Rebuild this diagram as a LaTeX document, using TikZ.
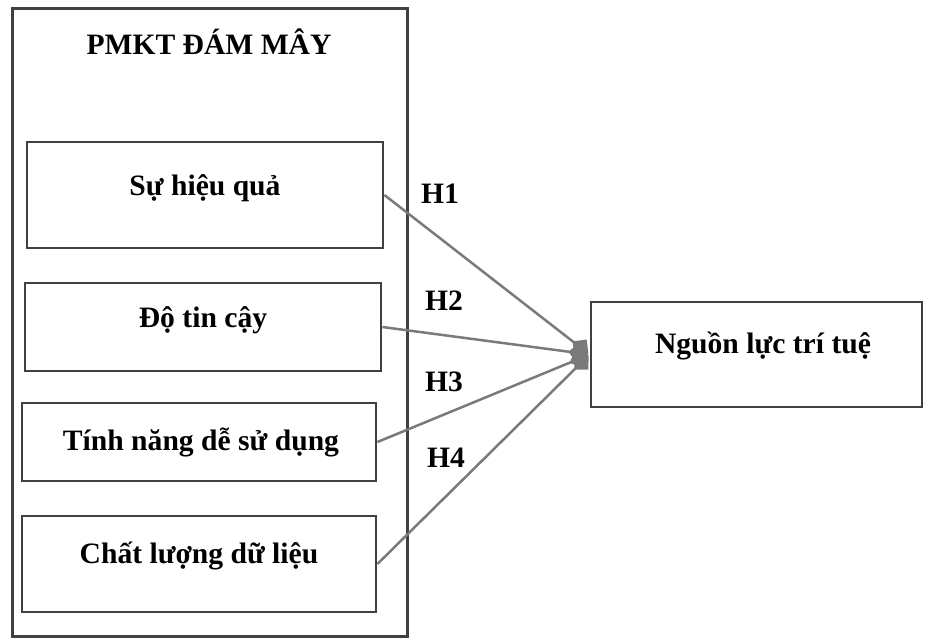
\documentclass[tikz,border=0pt]{standalone}
\usepackage{fontspec}
\setmainfont{Liberation Serif}
\usetikzlibrary{arrows.meta}
\definecolor{boxc}{HTML}{404040}
\definecolor{linec}{HTML}{7a7a7a}
\begin{document}
\begin{tikzpicture}[x=1pt,y=-1pt,
  box/.style={draw=boxc,line width=2.8pt,minimum width=#1,inner sep=0pt},
  txt/.style={font=\fontsize{29.6}{34}\selectfont\bfseries,anchor=base,inner sep=0pt},
  hyp/.style={font=\fontsize{29.6}{34}\selectfont\bfseries,anchor=base,inner sep=0pt},
  conn/.style={draw=linec,line width=2.5pt,shorten >=1.5pt,-{Kite[length=20pt,width=20pt,inset=10pt,line width=0pt]}}]
\useasboundingbox (0,0) rectangle (925,638);
% outer group box
\node[draw=boxc,line width=3pt,minimum width=395pt,minimum height=628pt,inner sep=0pt] (outer) at (209.5,322) {};
\node[txt] (title) at (209,54) {PMKT ĐÁM MÂY};
% inner boxes
\node[box=356pt,minimum height=106pt] (b1) at (205,195) {};
\node[txt] (t1) at (205,195.5) {Sự hiệu quả};
\node[box=356pt,minimum height=88pt] (b2) at (203,327) {};
\node[txt] (t2) at (203,327) {Độ tin cậy};
\node[box=354pt,minimum height=78pt] (b3) at (199,442) {};
\node[txt] (t3) at (201,450) {Tính năng dễ sử dụng};
\node[box=354pt,minimum height=96pt] (b4) at (199,564) {};
\node[txt] (t4) at (199,563) {Chất lượng dữ liệu};
% target
\node[box=331pt,minimum height=105pt] (r) at (756.5,354.5) {};
\node[txt] (tr) at (763,353) {Nguồn lực trí tuệ};
% connectors
\draw[conn] (b1.east) -- (r.west);
\draw[conn] (b2.east) -- (r.west);
\draw[conn] (b3.east) -- (r.west);
\draw[conn] (b4.east) -- (r.west);
% hypothesis labels
\node[hyp] (h1) at (440,203) {H1};
\node[hyp] (h2) at (444,310) {H2};
\node[hyp] (h3) at (444,391) {H3};
\node[hyp] (h4) at (446,467) {H4};
\end{tikzpicture}
\end{document}
